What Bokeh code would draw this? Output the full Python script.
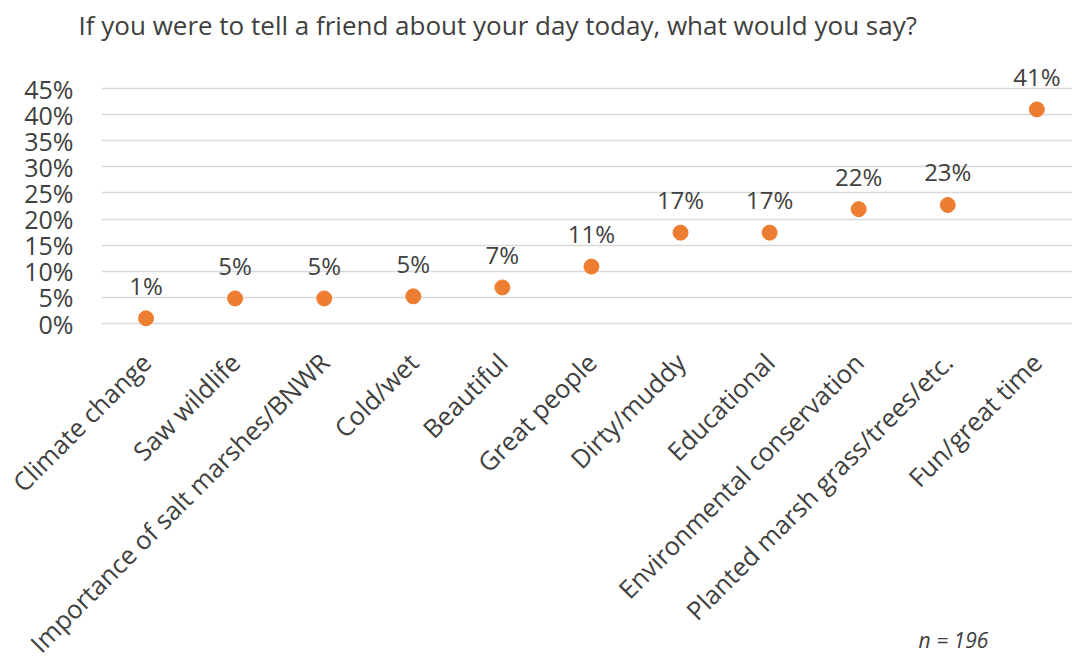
import math
from bokeh.plotting import figure
from bokeh.models import ColumnDataSource, Range1d, FixedTicker, Label, NumeralTickFormatter
from bokeh.core.properties import value
from bokeh.embed import file_html
from bokeh.resources import INLINE

categories = ["Climate change", "Saw wildlife", "Importance of salt marshes/BNWR",
              "Cold/wet", "Beautiful", "Great people", "Dirty/muddy", "Educational",
              "Environmental conservation", "Planted marsh grass/trees/etc.", "Fun/great time"]
values = [0.010, 0.048, 0.048, 0.052, 0.069, 0.109, 0.174, 0.174, 0.219, 0.227, 0.410]
value_labels = ["1%", "5%", "5%", "5%", "7%", "11%", "17%", "17%", "22%", "23%", "41%"]
y_ticks = [0, 0.05, 0.10, 0.15, 0.20, 0.25, 0.30, 0.35, 0.40, 0.45]
title_text = "If you were to tell a friend about your day today, what would you say?"
note_text = "n = 196"

FONT = "Open Sans"
TXT = "#404040"
ORANGE = "#ED7D31"

xs = list(range(len(categories)))
src = ColumnDataSource(dict(x=xs, y=values, lab=value_labels, cat=categories))

p = figure(width=1072, height=656, output_backend="svg", toolbar_location=None,
           x_range=Range1d(-0.5, 10.40), y_range=Range1d(-0.6377, 0.5343),
           min_border_left=101, min_border_right=0, min_border_top=44, min_border_bottom=0)
p.outline_line_color = None
p.background_fill_color = "white"

p.title.text = title_text
p.title.text_font = FONT
p.title.text_font_size = "26px"
p.title.text_font_style = "normal"
p.title.text_color = TXT
p.title.align = "left"
p.title.offset = -23
p.title.standoff = 4

p.xgrid.grid_line_color = None
p.ygrid.grid_line_color = "#D9D9D9"
p.ygrid.grid_line_width = 1.5
p.ygrid.ticker = FixedTicker(ticks=y_ticks)

p.yaxis.ticker = FixedTicker(ticks=y_ticks)
p.yaxis.formatter = NumeralTickFormatter(format="0%")
p.yaxis.axis_line_color = None
p.yaxis.major_tick_line_color = None
p.yaxis.minor_tick_line_color = None
p.yaxis.major_label_text_font = FONT
p.yaxis.major_label_text_font_size = "25px"
p.yaxis.major_label_text_color = TXT
p.yaxis.major_label_standoff = 22

p.xaxis.visible = False

# category labels along the (hidden) x axis, rotated 45 degrees
cat_r = p.text("x", 0, text="cat", source=src, angle=math.pi / 4, text_align="right",
               text_baseline="middle", x_offset=0, y_offset=34,
               text_font=value(FONT), text_font_size="25.5px", text_color=TXT)
cat_r.level = "overlay"

p.scatter("x", "y", source=src, size=15, color=ORANGE, line_color=ORANGE)
p.text("x", "y", text="lab", source=src, text_align="center", text_baseline="middle",
       y_offset=-33, text_font=value(FONT), text_font_size="24px", text_color=TXT)

note = Label(x=9.455, y=-0.607, text=note_text, text_align="right", text_baseline="middle",
             text_font=FONT, text_font_size="21px", text_font_style="italic", text_color=TXT)
p.add_layout(note)

open("out.html", "w").write(file_html(p, INLINE))
